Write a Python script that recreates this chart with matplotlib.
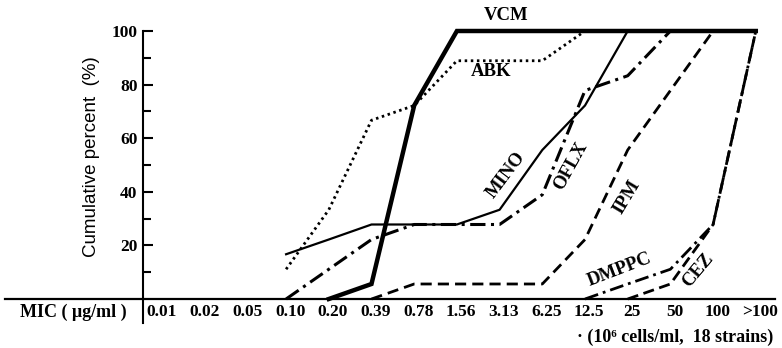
import numpy as np
import matplotlib
matplotlib.use("Agg")
import matplotlib.pyplot as plt
from matplotlib.transforms import ScaledTranslation

# MIC categories (ug/ml)
mic_labels = ["0.01", "0.02", "0.05", "0.10", "0.20", "0.39", "0.78", "1.56",
              "3.13", "6.25", "12.5", "25", "50", "100", ">100"]

# cumulative percent per drug (None = not reached yet)
vcm   = [None, None, None, None, 0, 5.6, 72.2, 100, 100, 100, 100, 100, 100, 100, 100]
abk   = [None, None, None, 11.1, 33.3, 66.7, 72.2, 88.9, 88.9, 88.9, 100, 100, 100, 100, 100]
mino  = [None, None, None, 16.7, 22.2, 27.8, 27.8, 27.8, 33.3, 55.6, 72.2, 100, 100, 100, 100]
oflx  = [None, None, None, 0, 11.1, 22.2, 27.8, 27.8, 27.8, 38.9, 77.8, 83.3, 100, 100, 100]
ipm   = [None, None, None, None, None, 0, 5.6, 5.6, 5.6, 5.6, 22.2, 55.6, 77.8, 100, 100]
dmppc = [None, None, None, None, None, None, None, None, None, None, 0, 5.6, 11.1, 27.8, 100]
cez   = [None, None, None, None, None, None, None, None, None, None, None, 0, 5.6, 27.8, 100]

serif = ["Liberation Serif", "DejaVu Serif"]
plt.rcParams["font.family"] = serif
plt.rcParams["font.weight"] = "bold"

fig = plt.figure(figsize=(7.82, 3.48), dpi=100)
ax = fig.add_axes([5 / 782, 49 / 348, 770 / 782, 268 / 348])

x = np.arange(len(mic_labels))


def arr(v):
    return np.array([np.nan if a is None else a for a in v], dtype=float)


ax.plot(x, arr(vcm), color="black", lw=3.2, solid_joinstyle="miter", clip_on=False)
ax.plot(x, arr(abk), color="black", lw=2.0, linestyle=(0, (0.9, 1.3)), clip_on=False)
ax.plot(x, arr(mino), color="black", lw=1.6, clip_on=False)
ax.plot(x, arr(oflx), color="black", lw=2.2, linestyle=(0, (5, 1.8, 1, 1.8)), clip_on=False)
ax.plot(x, arr(ipm), color="black", lw=2.0, linestyle=(0, (4, 2.2)), clip_on=False)
ax.plot(x, arr(dmppc), color="black", lw=2.0, linestyle=(0, (5, 1.8, 1, 1.8)), clip_on=False)
ax.plot(x, arr(cez), color="black", lw=2.0, linestyle=(0, (4, 2)), clip_on=False)

xl = (5 - 158) / 42.7
xr = (775 - 158) / 42.7
ax.set_xlim(xl, xr)
ax.set_ylim(0, 100)

yaxis_x = (143 - 158) / 42.7
for s in ["top", "right"]:
    ax.spines[s].set_visible(False)
ax.spines["left"].set_position(("data", yaxis_x))
ax.spines["left"].set_bounds(-9, 100)
ax.spines["left"].set_linewidth(1.5)
ax.spines["bottom"].set_linewidth(1.6)

ax.set_yticks([20, 40, 60, 80, 100])
ax.set_yticks([10, 30, 50, 70, 90], minor=True)
ax.tick_params(axis="y", which="both", direction="in", width=1.5)
ax.tick_params(axis="y", which="major", length=7, pad=4, labelsize=12.5)
ax.tick_params(axis="y", which="minor", length=6)

ax.set_xticks(x, mic_labels)
ax.tick_params(axis="x", length=0, pad=3.5, labelsize=12.5)
off = ScaledTranslation(0.04, 0, fig.dpi_scale_trans)
for lab in ax.get_xticklabels():
    lab.set_transform(lab.get_transform() + off)

# axis captions
fig.text(20 / 782, 1 - 312 / 348, "MIC ( μg/ml )", fontsize=13, va="center", ha="left")
fig.text(773 / 782, 1 - 337 / 348, "· (10⁶ cells/ml,  18 strains)", fontsize=13,
         va="center", ha="right")
fig.text(91 / 782, 1 - 157 / 348, "Cumulative percent  (%)", fontsize=13.5,
         family=["Liberation Sans", "DejaVu Sans"], weight="normal",
         rotation=90, va="center", ha="center")

# curve labels (pixel positions)
labels = [("VCM", 506, 15, 0), ("ABK", 491, 72, 0), ("MINO", 506, 175, 53),
          ("OFLX", 571, 166, 61), ("IPM", 627, 197, 59), ("DMPPC", 620, 270, 21),
          ("CEZ", 698, 270, 50)]
for txt, px, py, rot in labels:
    fig.text(px / 782, 1 - py / 348, txt, fontsize=13.5, rotation=rot,
             ha="center", va="center")

fig.savefig("out.png", dpi=100)
